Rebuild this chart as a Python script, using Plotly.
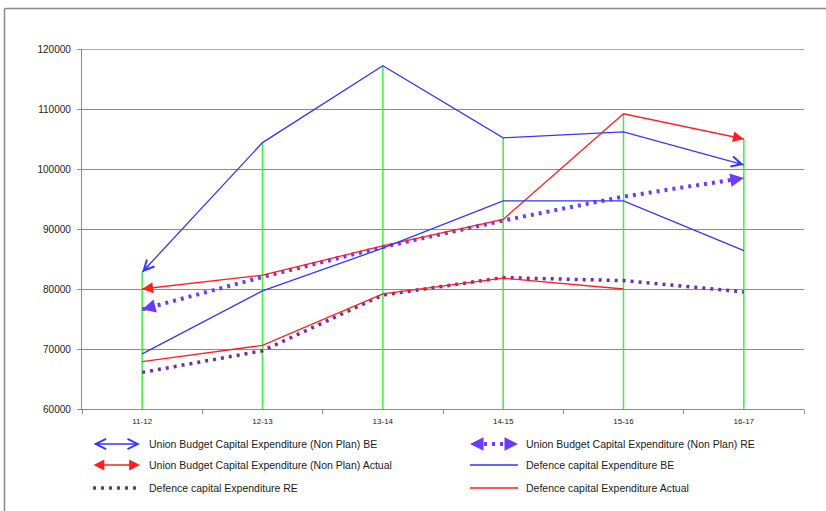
import plotly.graph_objects as go

# Financial years on the category axis
categories = ["11-12", "12-13", "13-14", "14-15", "15-16", "16-17"]

# Union budget capital expenditure (Non Plan), Rs crore
union_be = [82800, 104400, 117200, 105200, 106200, 100700]
union_re = [76600, 82000, 87000, 91400, 95400, 98500]
union_actual = [80000, 82300, 87200, 91600, 109200, 105000]

# Defence capital expenditure, Rs crore
def_be = [69200, 79700, 86800, 94700, 94700, 86400]
def_re = [66100, 69700, 79000, 81900, 81400, 79500]
def_actual = [67900, 70600, 79200, 81800, 80000, None]

legend_names = [
    "Union Budget Capital Expenditure (Non Plan) BE",
    "Union Budget Capital Expenditure (Non Plan) RE",
    "Union Budget Capital Expenditure (Non Plan) Actual",
    "Defence capital Expenditure BE",
    "Defence capital Expenditure RE",
    "Defence capital Expenditure Actual",
]

BLUE = "#3535ff"
RED = "#ff1f1f"
VIOLET = "#6a3cff"
PURPLE = "#7030a0"
GREEN = "#3cf03c"
GRID = "#8c8c8c"
FONT = "Liberation Sans"
DOTS = "3px,5px"

Y_MIN, Y_MAX = 60000, 120000

# plot-area pixel geometry (used for the hand-drawn legend below the axis)
W, H = 826, 511
ML, MR, MT, MB = 82, 22, 49, 102
PW, PH = W - ML - MR, H - MT - MB


def px_x(p):
    return (p - ML) / PW


def px_y(p):
    return (H - MB - p) / PH


# empty-text arrow annotations need a tiny text box so short arrows are kept
ARROW_TEXT = dict(text="", font=dict(size=1), borderpad=0, showarrow=True)

all_series = [union_be, union_re, union_actual, def_be, def_re, def_actual]

fig = go.Figure()

# drop lines from the axis up to the highest value of each year
drop_x, drop_y = [], []
for i, cat in enumerate(categories):
    top = max(s[i] for s in all_series if s[i] is not None)
    drop_x += [cat, cat, None]
    drop_y += [Y_MIN, top, None]
fig.add_trace(go.Scatter(x=drop_x, y=drop_y, mode="lines",
                         line=dict(color=GREEN, width=1.5),
                         hoverinfo="skip", showlegend=False))

styles = [
    dict(color=BLUE, width=1.3),
    dict(color=VIOLET, width=4, dash=DOTS),
    dict(color=RED, width=1.3),
    dict(color=BLUE, width=1.3),
    dict(color=PURPLE, width=3.5, dash=DOTS),
    dict(color=RED, width=1.3),
]
for name, vals, st in zip(legend_names, all_series, styles):
    fig.add_trace(go.Scatter(x=categories, y=vals, mode="lines", name=name,
                             line=st, showlegend=False, connectgaps=False))

annotations = []

# arrowheads at both ends of the union budget series
heads = [
    (union_be, BLUE, 5, 1.35),
    (union_re, VIOLET, 2, 1.8),
    (union_actual, RED, 2, 1.45),
]
n = len(categories)
for vals, color, head, size in heads:
    for tip, prev in ((0, 1), (n - 1, n - 2)):
        f = 0.06
        annotations.append(dict(
            x=tip, y=vals[tip], xref="x", yref="y",
            ax=tip + f * (prev - tip), ay=vals[tip] + f * (vals[prev] - vals[tip]),
            axref="x", ayref="y",
            arrowhead=head, arrowsize=size, arrowwidth=1.5, arrowcolor=color, **ARROW_TEXT))

# legend: two columns, three rows
col_sym = [(93, 140), (470, 518)]
col_text = [147, 524]
row_y = [444, 465, 488]
slots = [(0, 0), (1, 0), (0, 1), (1, 1), (0, 2), (1, 2)]

shapes = []
for name, (c, r) in zip(legend_names, slots):
    annotations.append(dict(x=px_x(col_text[c]), y=px_y(row_y[r]), xref="paper", yref="paper",
                            text=name, showarrow=False, xanchor="left", yanchor="middle",
                            font=dict(family=FONT, size=10.5, color="#1a1a1a")))

x0, x1 = col_sym[0]
yy = row_y[0]
annotations.append(dict(x=px_x(x1), y=px_y(yy), xref="paper", yref="paper", ax=-(x1 - x0), ay=0,
                        arrowside="end+start", arrowhead=5,
                        arrowsize=1.35, arrowwidth=1.5, arrowcolor=BLUE, **ARROW_TEXT))
yy = row_y[1]
annotations.append(dict(x=px_x(x1), y=px_y(yy), xref="paper", yref="paper", ax=-(x1 - x0), ay=0,
                        arrowside="end+start", arrowhead=2,
                        arrowsize=1.45, arrowwidth=1.5, arrowcolor=RED, **ARROW_TEXT))
yy = row_y[2]
shapes.append(dict(type="line", xref="paper", yref="paper", x0=px_x(x0), x1=px_x(x1),
                   y0=px_y(yy), y1=px_y(yy), line=dict(color=PURPLE, width=3.5, dash=DOTS)))

x0, x1 = col_sym[1]
yy = row_y[0]
shapes.append(dict(type="line", xref="paper", yref="paper", x0=px_x(x0 + 14), x1=px_x(x1 - 12),
                   y0=px_y(yy), y1=px_y(yy), line=dict(color=VIOLET, width=4, dash=DOTS)))
for tip, d in ((x0, 7), (x1, -7)):
    annotations.append(dict(x=px_x(tip), y=px_y(yy), xref="paper", yref="paper", ax=d, ay=0,
                            arrowhead=2, arrowsize=1.8,
                            arrowwidth=1.5, arrowcolor=VIOLET, **ARROW_TEXT))
for r, color in ((1, BLUE), (2, RED)):
    yy = row_y[r]
    shapes.append(dict(type="line", xref="paper", yref="paper", x0=px_x(x0), x1=px_x(x1),
                       y0=px_y(yy), y1=px_y(yy), line=dict(color=color, width=1.5)))

# top gridline at the upper end of the value range
shapes.append(dict(type="line", xref="paper", yref="y", x0=0, x1=1, y0=Y_MAX, y1=Y_MAX,
                   line=dict(color=GRID, width=1.3), layer="below"))

# outer chart frame (top and left edges fall inside the page)
frame = dict(color="#8a8a8a", width=1.5)
shapes.append(dict(type="line", xref="paper", yref="paper", x0=px_x(4.5), x1=px_x(W),
                   y0=px_y(8.5), y1=px_y(8.5), line=frame, layer="below"))
shapes.append(dict(type="line", xref="paper", yref="paper", x0=px_x(4.5), x1=px_x(4.5),
                   y0=px_y(8.5), y1=px_y(H), line=frame, layer="below"))

fig.update_layout(
    width=W, height=H,
    margin=dict(l=ML, r=MR, t=MT, b=MB),
    paper_bgcolor="white", plot_bgcolor="white",
    showlegend=False,
    annotations=annotations,
    shapes=shapes,
    xaxis=dict(type="category", categoryorder="array", categoryarray=categories,
               range=[-0.5, n - 0.5], tickson="boundaries", ticks="outside", ticklen=4,
               tickcolor=GRID, showline=True, linecolor=GRID, linewidth=1.3,
               showgrid=False, zeroline=False, ticklabelstandoff=4,
               tickfont=dict(family=FONT, size=8, color="#222")),
    yaxis=dict(range=[Y_MIN, Y_MAX], dtick=10000, tickformat="d",
               ticks="outside", ticklen=4, tickcolor=GRID,
               showline=True, linecolor=GRID, linewidth=1.3, ticklabelstandoff=4,
               showgrid=True, gridcolor=GRID, gridwidth=1.3, zeroline=False,
               tickfont=dict(family=FONT, size=10, color="#222")),
)

fig.write_html("out.html")
